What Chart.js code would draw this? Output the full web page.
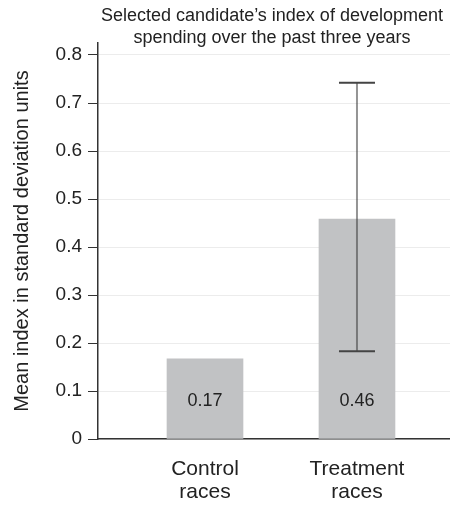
<!DOCTYPE html>
<html>
<head>
<meta charset="utf-8">
<script src="https://cdn.jsdelivr.net/npm/chart.js@4/dist/chart.umd.min.js"></script>
<style>
    html, body { margin: 0; padding: 0; background: #fff; }
    #wrap { width: 450px; height: 505px; position: relative; }
</style>
</head>
<body>
<div id="wrap"><canvas id="devChart"></canvas></div>
<script>
const categories = [['Control', 'races'], ['Treatment', 'races']];
const meanValues = [0.167, 0.458];
const valueLabels = ['0.17', '0.46'];
const errorLow = [null, 0.183];
const errorHigh = [null, 0.742];
const yTicks = [0, 0.1, 0.2, 0.3, 0.4, 0.5, 0.6, 0.7, 0.8];
const titleLines = ["Selected candidate\u2019s index of development", 'spending over the past three years'];

const FONT = "'Liberation Sans', Arial, sans-serif";
const TEXT = '#222';

// title, value labels and the error bar are drawn on top of the bars
const extrasPlugin = {
    id: 'extras',
    afterDatasetsDraw(chart) {
        const ctx = chart.ctx;
        const x = chart.scales.x;
        const y = chart.scales.y;
        const area = chart.chartArea;
        ctx.save();

        ctx.fillStyle = TEXT;
        ctx.textAlign = 'center';
        ctx.textBaseline = 'alphabetic';
        ctx.font = '18px ' + FONT;
        const cx = (area.left + area.right) / 2 - 2;
        titleLines.forEach((line, i) => ctx.fillText(line, cx, 21 + i * 21.5));

        ctx.textBaseline = 'middle';
        ctx.font = '18px ' + FONT;
        meanValues.forEach((v, i) => {
            ctx.fillText(valueLabels[i], x.getPixelForValue(i + 1), y.getPixelForValue(0.08));
        });

        meanValues.forEach((v, i) => {
            if (errorLow[i] == null) return;
            const px = x.getPixelForValue(i + 1);
            const top = y.getPixelForValue(errorHigh[i]);
            const bottom = y.getPixelForValue(errorLow[i]);
            ctx.strokeStyle = 'rgba(60, 60, 60, 0.55)';
            ctx.lineWidth = 2;
            ctx.beginPath();
            ctx.moveTo(px, top);
            ctx.lineTo(px, bottom);
            ctx.stroke();
            ctx.strokeStyle = '#444';
            ctx.beginPath();
            ctx.moveTo(px - 18, top);
            ctx.lineTo(px + 18, top);
            ctx.moveTo(px - 18, bottom);
            ctx.lineTo(px + 18, bottom);
            ctx.stroke();
        });
        ctx.restore();
    }
};

new Chart(document.getElementById('devChart').getContext('2d'), {
    type: 'bar',
    data: {
        datasets: [{
            data: meanValues.map((v, i) => ({ x: i + 1, y: v })),
            backgroundColor: '#c1c2c4',
            borderWidth: 0,
            barThickness: 76
        }]
    },
    options: {
        responsive: true,
        maintainAspectRatio: false,
        animation: false,
        layout: { padding: { top: 43, right: 0, left: 0, bottom: 0 } },
        plugins: {
            legend: { display: false },
            tooltip: { enabled: false }
        },
        scales: {
            x: {
                type: 'linear',
                offset: false,
                min: 0.296,
                max: 2.612,
                grid: { display: false },
                border: { display: true, color: '#333', width: 1.5 },
                afterBuildTicks: s => { s.ticks = categories.map((c, i) => ({ value: i + 1 })); },
                afterFit: s => { s.height = 66; },
                ticks: {
                    padding: 11,
                    color: TEXT,
                    font: { family: FONT, size: 21, lineHeight: 1.1 },
                    callback: v => categories[v - 1]
                }
            },
            y: {
                min: 0,
                max: 0.825,
                grid: { color: '#ececec', tickColor: '#333', tickLength: 10 },
                border: { display: true, color: '#333', width: 1.5 },
                afterBuildTicks: s => { s.ticks = yTicks.map(v => ({ value: v })); },
                afterFit: s => { s.width = 98; },
                ticks: {
                    padding: 6,
                    color: TEXT,
                    font: { family: FONT, size: 19 },
                    callback: v => v === 0 ? '0' : v.toFixed(1)
                },
                title: {
                    display: true,
                    text: 'Mean index in standard deviation units',
                    color: TEXT,
                    font: { family: FONT, size: 20 },
                    padding: { top: 10, bottom: 0 }
                }
            }
        }
    },
    plugins: [extrasPlugin]
});
</script>
</body>
</html>
